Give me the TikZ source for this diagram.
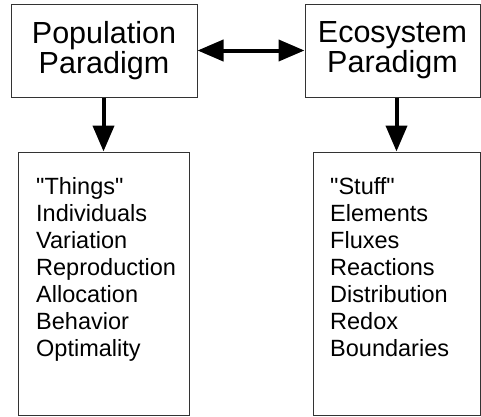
\documentclass[tikz,border=0pt]{standalone}
\usepackage{fontspec}
\setmainfont{Liberation Sans}
\usetikzlibrary{arrows.meta}

\tikzset{
  paradigm/.style={draw=black!80, line width=1pt, align=center, inner sep=0pt,
    minimum height=93pt, font=\fontsize{30.5}{30}\selectfont},
  listbox/.style={draw=black!80, line width=1pt, minimum height=263pt},
  listtext/.style={align=left, inner sep=0pt, anchor=north west,
    font=\fontsize{23.5}{27}\selectfont},
  fat/.style={line width=4pt, -{Triangle[length=26pt,width=21pt]}},
  fatboth/.style={line width=4pt, {Triangle[length=26pt,width=21pt]}-{Triangle[length=26pt,width=21pt]}},
}

\begin{document}
\begin{tikzpicture}[x=1pt, y=-1pt]
    \useasboundingbox (0,0) rectangle (481,416);

    % the two paradigms
    \node[paradigm, minimum width=186pt] (pop) at (104,50.5) {Population\\Paradigm};
    \node[paradigm, minimum width=175pt] (eco) at (392.5,50.5) {Ecosystem\\Paradigm};

    % what each one looks at
    \node[listbox, minimum width=171pt] (things) at (103.5,283.5) {};
    \node[listbox, minimum width=167pt] (stuff) at (396.5,283.5) {};

    \node[listtext] (thingslist) at (36,177)
        {\textquotedbl Things\textquotedbl\\Individuals\\Variation\\Reproduction\\Allocation\\Behavior\\Optimality};
    \node[listtext] (stufflist) at (330,177)
        {\textquotedbl Stuff\textquotedbl\\Elements\\Fluxes\\Reactions\\Distribution\\Redox\\Boundaries};

    \draw[fatboth] (pop) -- (eco);
    \draw[fat] (things.north |- pop.south) -- (things.north);
    \draw[fat] (stuff.north |- eco.south) -- (stuff.north);
\end{tikzpicture}
\end{document}
